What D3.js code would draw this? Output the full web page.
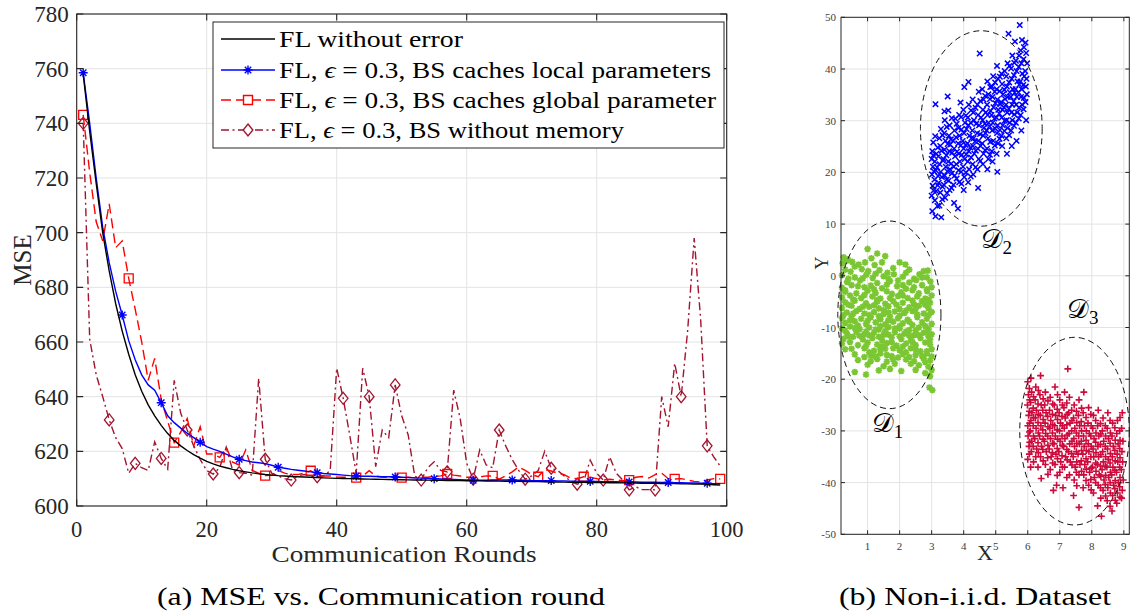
<!DOCTYPE html>
<html><head><meta charset="utf-8">
<script src="https://cdn.jsdelivr.net/npm/d3@7"></script>
<style>body{margin:0;background:#fff}svg{display:block}text{font-family:"Liberation Serif","Times New Roman",serif}</style>
</head><body><svg id="c" width="1133" height="615"></svg>
<script>
// ---------- Panel (a) data ----------
const noError = [758,737,718,700,686,674,664,655.5,648,642,637,633,629.5,626.5,624,622,620.3,618.8,617.5,616.3,615.4,614.6,614,613.4,612.9,612.5,612.1,611.8,611.5,611.3,611.1,611,610.8,610.7,610.6,610.5,610.4,610.3,610.2,610.1,610.05,610,609.95,609.9,609.85,609.8,609.75,609.7,609.65,609.6,609.55,609.5,609.5,609.45,609.4,609.4,609.35,609.3,609.3,609.25,609.2,609.2,609.15,609.1,609.1,609.05,609,609,608.95,608.9,608.9,608.85,608.8,608.8,608.75,608.7,608.7,608.65,608.6,608.6,608.55,608.5,608.5,608.45,608.4,608.4,608.35,608.3,608.3,608.25,608.2,608.2,608.1,608.1,608,608,607.9,607.8,607.7];
const localParams = [758.5,740,720,702,689,678.5,669.9,660.5,653.5,648,644.3,642.4,637.8,633,630.5,628.5,626.6,625,623.3,621.7,620.8,620,619,618,617.1,616.6,616.1,615.8,615.5,614.9,614.2,613.8,613.4,613.1,612.8,612.5,612.2,611.9,611.7,611.5,611.3,611.1,611,610.9,610.9,610.8,610.7,610.7,610.6,610.5,610.4,610.3,610.2,610.1,610,609.9,609.8,609.7,609.6,609.5,609.4,609.4,609.4,609.5,609.5,609.5,609.5,609.4,609.4,609.3,609.3,609.3,609.3,609.2,609.2,609.1,609.1,609,609,609,608.9,608.9,608.9,608.8,608.8,608.8,608.7,608.7,608.7,608.6,608.6,608.5,608.5,608.4,608.4,608.3,608.3,608.2,608.2];
const globalParam = [743.1,722,704,697,710.5,694.5,697,683.3,672,660,646,654,639,631,623.2,627,632,622,629,619,619,617.8,621.5,616,615,620.5,613,612,611.1,611.2,613,612,611.5,611.5,612,612.9,611.5,611,611,610.6,610.5,610.5,610.4,611,612.9,611,610.5,610.5,610.5,610.4,610.5,610.3,610.5,610.5,610.8,611,611.7,611.3,611,610.5,610.5,610.6,611,611,609.8,611,612.5,614.3,613,611.5,610.7,613.3,612.8,612,611.5,610.2,610,610.7,610.5,610,609.5,609.8,609.5,609.3,609.5,610.5,610.8,610.2,611.5,612,610,609.9,610,609.5,609,608.8,609.5,610,609.9];
const noMemory = [740,661,648,640,631.5,625,621,612,615.6,614,613,623.5,617.4,613.5,646,634,627.8,622,617,613,611.7,614,621.5,613,612.2,612,611.3,646.7,617.1,612,611,610,609.5,611,611.5,611,610.7,611,613,650.4,639.4,626,612,650.4,640,614.4,627.8,625,644.3,633,626,611,609.5,614,616.2,613,612.5,642.4,632,615.6,609.8,620.5,615,614,627.8,622,617,613,609.8,611,613,620,613.8,613,611,609,608,609,616.8,612,609.5,618,612,609.5,605.9,607,606,606,605.9,640,629,652.2,640,664.4,698,668,622,618,614.6];
const rounds = noError.map((d, i) => i + 1);
const xTicksA = [0, 20, 40, 60, 80, 100];
const yTicksA = [600, 620, 640, 660, 680, 700, 720, 740, 760, 780];
const legendLabels = ["FL without error", "FL, ϵ = 0.3, BS caches local parameters", "FL, ϵ = 0.3, BS caches global parameter", "FL, ϵ = 0.3, BS without memory"];

// ---------- Panel (b) data ----------
const cluster1 = [[1.0,5.2],[1.3,4.3],[0.25,3.6],[0.38,3.2],[1.12,3.4],[1.55,3.8],[0.22,2.4],[0.52,2.7],[0.72,2.2],[0.92,2.6],[1.22,2.1],[2.0,2.6],[2.18,2.2],
[0.3,1.2],[0.47,0.8],[0.82,1.3],[1.02,0.9],[1.37,1.1],[1.62,0.6],[2.88,1.0],[2.62,0.3],
[0.2,0.1],[0.6,-0.3],[0.96,0.2],[1.16,-0.4],[1.5,-0.1],[1.82,0.3],[2.1,-0.2],[2.45,-0.6],[2.85,-0.3],
[0.36,-1.2],[0.76,-0.9],[1.3,-1.4],[1.7,-1.0],[2.3,-1.3],[2.52,-0.8],[2.96,-1.1],
[0.2,-2.3],[0.5,-1.8],[0.9,-2.2],[1.1,-1.9],[1.45,-2.4],[1.92,-2.0],[2.2,-2.5],[2.7,-1.8],[3.0,-2.2],
[0.3,-3.1],[0.65,-3.4],[1.0,-2.9],[1.25,-3.3],[1.6,-3.0],[1.76,-3.5],[2.05,-3.2],[2.4,-2.8],[2.6,-3.4],[2.86,-3.0],
[0.2,-4.2],[0.45,-3.8],[0.8,-4.3],[1.15,-4.0],[1.4,-4.4],[1.95,-3.9],[2.25,-4.3],[2.55,-4.0],[2.8,-4.4],[3.0,-3.8],
[0.3,-5.1],[0.6,-4.8],[0.95,-5.3],[1.3,-5.0],[1.55,-5.4],[1.8,-4.9],[2.1,-5.2],[2.45,-5.5],[2.7,-4.9],[2.95,-5.2],
[0.2,-6.2],[0.5,-5.8],[0.75,-6.4],[1.05,-6.0],[1.35,-6.3],[1.65,-5.9],[2.0,-6.4],[2.3,-6.1],[2.6,-5.8],[2.9,-6.3],
[0.35,-7.1],[0.65,-6.8],[0.9,-7.3],[1.2,-7.0],[1.5,-7.4],[1.85,-6.9],[2.15,-7.2],[2.4,-6.8],[2.75,-7.3],[3.0,-7.0],
[0.2,-8.2],[0.5,-7.8],[0.8,-8.3],[1.1,-8.0],[1.4,-8.4],[1.7,-7.9],[1.95,-8.2],[2.25,-8.5],[2.55,-8.0],[2.85,-8.3],
[0.3,-9.1],[0.6,-8.8],[0.95,-9.3],[1.25,-9.0],[1.55,-9.4],[1.8,-8.9],[2.1,-9.2],[2.4,-9.5],[2.7,-9.0],[3.0,-9.3],
[0.2,-10.2],[0.45,-9.8],[0.75,-10.3],[1.05,-10.0],[1.35,-10.4],[1.65,-9.9],[2.0,-10.2],[2.3,-10.5],[2.6,-10.0],[2.9,-10.3],
[0.35,-11.1],[0.65,-10.8],[0.9,-11.3],[1.2,-11.0],[1.5,-11.4],[1.85,-10.9],[2.15,-11.2],[2.45,-11.5],[2.75,-11.0],[3.0,-11.3],
[0.25,-12.2],[0.55,-11.8],[0.85,-12.3],[1.15,-12.0],[1.45,-12.4],[1.75,-11.9],[2.05,-12.2],[2.35,-12.5],[2.65,-12.0],[2.95,-12.3],
[0.2,-13.1],[0.7,-13.4],[1.0,-12.9],[1.3,-13.3],[1.6,-13.0],[1.9,-13.5],[2.2,-13.1],[2.5,-13.4],[2.8,-12.9],
[0.3,-14.2],[0.9,-14.0],[1.2,-14.5],[1.55,-14.1],[2.0,-14.4],[2.35,-14.0],[2.65,-14.6],[3.0,-14.2],
[0.6,-15.2],[1.1,-15.4],[1.4,-15.0],[1.75,-15.5],[2.1,-15.1],[2.5,-15.3],[2.85,-15.0],
[0.7,-16.3],[1.3,-16.1],[1.6,-16.6],[2.2,-16.2],[2.45,-16.5],[2.75,-16.0],[2.95,-16.4],
[1.0,-17.2],[1.5,-17.5],[1.85,-17.0],[2.6,-17.3],[2.9,-17.6],
[0.6,-18.6],[1.35,-18.3],[2.05,-18.4],[2.8,-18.8],[3.0,-18.2],
[0.95,-19.1],[2.95,-19.4],[2.93,-21.6],[3.02,-22.1],
[0.35,2.9],[0.6,1.8],[1.45,2.6],[1.8,1.5],[2.3,1.2],[2.75,0.9],
[0.4,-0.6],[0.85,-0.5],[1.25,0.4],[1.65,-0.6],[1.95,-0.9],[2.2,0.6],[2.7,-0.3],
[0.3,-2.8],[0.7,-2.0],[1.2,-2.6],[1.6,-1.7],[2.1,-1.8],[2.45,-2.2],[2.85,-2.6],
[0.55,-4.6],[0.9,-3.7],[1.3,-4.7],[1.7,-4.3],[2.1,-3.8],[2.4,-4.8],[2.9,-4.7],
[0.4,-5.6],[0.85,-6.0],[1.2,-5.7],[1.5,-6.6],[1.9,-5.6],[2.2,-6.7],[2.5,-6.4],[2.8,-5.6],
[0.25,-7.6],[0.55,-7.3],[1.05,-7.6],[1.35,-7.8],[1.65,-7.1],[2.0,-7.7],[2.55,-7.5],[2.9,-7.6],
[0.45,-8.6],[0.7,-9.6],[1.0,-8.7],[1.4,-9.7],[1.65,-8.6],[2.0,-9.7],[2.3,-8.9],[2.8,-9.7],
[0.3,-10.6],[0.6,-10.1],[0.95,-10.8],[1.25,-10.4],[1.55,-10.7],[1.85,-10.2],[2.2,-10.8],[2.5,-10.6],[2.85,-10.9],
[0.4,-11.7],[0.75,-11.6],[1.05,-11.5],[1.35,-11.8],[1.65,-11.4],[2.0,-11.7],[2.3,-11.6],[2.6,-11.5],[2.9,-11.7],
[0.45,-12.8],[0.95,-13.6],[1.45,-13.6],[1.75,-12.8],[2.1,-13.7],[2.4,-12.8],[2.95,-13.3],
[0.5,-14.1],[1.05,-14.8],[1.4,-14.2],[1.8,-14.0],[2.2,-14.8],[2.5,-14.2],[2.85,-14.6],
[0.9,-15.7],[1.25,-15.6],[1.6,-15.3],[1.95,-15.8],[2.3,-15.7],[2.7,-15.5],[3.0,-15.6],
[1.1,-16.5],[1.8,-16.2],[2.35,-17.0],[2.8,-16.7],[1.7,-18.0],[2.5,-18.2]];
const cluster2 = [[3.02,12.5],[3.0,15.5],[3.03,17.4],[3.01,19.6],[3.04,21.1],[3.0,22.6],[3.02,24.1],[3.05,25.8],
[3.12,11.5],[3.1,14.6],[3.14,16.4],[3.09,18.6],[3.13,20.4],[3.1,22.1],[3.15,23.6],[3.11,27.0],[3.12,33.2],
[3.3,11.3],[3.24,13.6],[3.27,16.1],[3.22,18.0],[3.28,20.1],[3.25,21.6],[3.21,23.1],[3.27,25.1],[3.24,26.6],[3.29,28.4],
[3.42,15.1],[3.38,17.6],[3.41,19.4],[3.44,21.1],[3.37,22.6],[3.4,24.4],[3.43,26.1],[3.39,27.6],[3.41,30.1],[3.4,31.8],
[3.56,16.6],[3.53,18.4],[3.57,20.6],[3.52,22.1],[3.55,24.1],[3.58,25.4],[3.54,27.1],[3.56,29.1],[3.52,32.0],[3.5,34.7],
[3.7,14.1],[3.68,17.6],[3.72,19.4],[3.69,21.1],[3.73,23.1],[3.7,24.6],[3.67,26.1],[3.71,28.1],[3.74,30.4],
[3.82,13.0],[3.86,18.1],[3.84,20.4],[3.88,22.1],[3.85,23.6],[3.83,25.6],[3.87,27.1],[3.84,28.6],[3.86,31.1],[3.9,33.5],
[4.0,16.6],[4.02,19.1],[3.98,21.1],[4.03,22.6],[4.0,24.6],[3.97,26.1],[4.01,27.6],[4.04,29.6],[3.99,32.1],[4.02,36.5],
[4.14,18.1],[4.17,20.6],[4.13,22.1],[4.16,24.1],[4.12,25.6],[4.18,27.1],[4.15,29.1],[4.13,30.6],[4.16,33.1],[4.15,37.5],
[4.3,19.6],[4.28,21.6],[4.33,23.6],[4.29,25.1],[4.31,26.6],[4.27,28.1],[4.32,30.1],[4.3,31.6],[4.28,34.1],
[4.45,17.0],[4.43,20.6],[4.47,22.6],[4.44,24.6],[4.46,26.1],[4.42,27.6],[4.48,29.1],[4.45,31.1],[4.43,33.1],[4.47,35.6],[4.5,43.0],
[4.6,21.6],[4.62,23.6],[4.58,25.6],[4.61,27.1],[4.63,28.6],[4.59,30.1],[4.6,32.1],[4.62,34.1],[4.58,36.1],
[4.74,20.6],[4.77,22.6],[4.73,24.6],[4.76,26.6],[4.72,28.1],[4.78,29.6],[4.75,31.1],[4.73,33.1],[4.77,35.1],[4.74,37.6],
[4.9,22.1],[4.88,24.1],[4.92,26.1],[4.89,28.1],[4.91,29.6],[4.87,31.1],[4.93,32.6],[4.9,34.6],[4.88,36.6],[4.92,38.6],
[5.05,20.1],[5.03,23.6],[5.07,25.6],[5.04,27.6],[5.06,29.1],[5.02,30.6],[5.08,32.1],[5.05,34.1],[5.03,36.1],[5.07,38.1],[5.04,40.6],
[5.2,25.1],[5.18,27.1],[5.22,29.1],[5.19,30.6],[5.21,32.1],[5.17,33.6],[5.23,35.1],[5.2,37.1],[5.18,39.1],
[5.35,23.6],[5.33,26.6],[5.37,28.6],[5.34,30.1],[5.36,31.6],[5.32,33.1],[5.38,34.6],[5.35,36.6],[5.33,38.6],[5.37,41.1],[5.4,46.8],
[5.5,25.1],[5.48,28.1],[5.52,30.1],[5.49,31.6],[5.51,33.1],[5.47,34.6],[5.53,36.1],[5.5,38.1],[5.48,40.1],[5.52,42.6],
[5.65,26.1],[5.63,29.6],[5.67,31.6],[5.64,33.1],[5.66,34.6],[5.62,36.1],[5.68,37.6],[5.65,39.6],[5.63,41.6],[5.6,45.3],
[5.8,28.1],[5.78,31.1],[5.82,33.1],[5.79,34.6],[5.81,36.1],[5.77,37.6],[5.83,39.1],[5.8,41.1],[5.78,43.6],[5.82,45.6],[5.75,48.5],
[5.95,30.1],[5.93,33.6],[5.97,35.1],[5.94,36.6],[5.96,38.1],[5.92,39.6],[5.98,41.1],[5.95,43.1],[5.93,45.1],
[3.06,16.5],[3.07,20.2],[3.05,23.3],[3.18,13.5],[3.19,17.5],[3.2,19.3],[3.17,21.0],[3.19,24.8],
[3.33,14.8],[3.34,17.2],[3.32,19.1],[3.35,22.3],[3.31,24.2],[3.34,27.2],
[3.48,16.0],[3.47,18.6],[3.49,20.2],[3.46,23.3],[3.5,25.5],[3.47,28.8],
[3.62,17.0],[3.63,19.8],[3.61,21.7],[3.64,23.8],[3.6,26.4],[3.63,30.5],
[3.78,18.8],[3.77,21.6],[3.79,24.0],[3.76,26.8],[3.78,29.4],
[3.93,17.8],[3.92,20.1],[3.94,23.4],[3.91,25.2],[3.93,28.3],[3.92,30.7],
[4.07,20.0],[4.08,23.5],[4.06,25.3],[4.09,28.4],[4.07,31.0],
[4.22,19.2],[4.23,22.9],[4.21,24.8],[4.24,26.6],[4.22,29.6],[4.23,32.0],
[4.37,21.0],[4.38,24.2],[4.36,26.0],[4.39,29.4],[4.37,32.5],
[4.52,22.2],[4.53,25.1],[4.51,27.4],[4.54,30.6],[4.52,33.8],
[4.67,24.3],[4.68,27.6],[4.66,29.4],[4.69,31.6],[4.67,34.8],
[4.82,23.4],[4.83,25.9],[4.81,28.9],[4.84,31.9],[4.82,34.2],[4.83,36.5],
[4.97,25.2],[4.98,28.5],[4.96,30.4],[4.99,33.4],[4.97,35.6],[4.98,37.4],
[5.12,26.5],[5.13,28.2],[5.11,31.4],[5.14,33.2],[5.12,35.7],[5.13,38.5],
[5.27,28.0],[5.28,30.0],[5.26,32.6],[5.29,34.2],[5.27,36.0],[5.28,39.6],
[5.42,27.2],[5.43,29.6],[5.41,32.3],[5.44,35.5],[5.42,37.4],[5.43,40.6],
[5.57,29.0],[5.58,31.2],[5.56,33.8],[5.59,35.4],[5.57,38.8],[5.58,41.2],
[5.72,30.4],[5.73,32.5],[5.71,35.5],[5.74,37.0],[5.72,40.4],[5.73,42.6],
[5.87,32.2],[5.88,34.4],[5.86,36.9],[5.89,38.6],[5.87,41.9],[5.88,44.2]];
const cluster3 = [[6.0,-20.5],[6.02,-23.0],[5.99,-25.0],[6.03,-27.0],[6.0,-29.0],[6.01,-31.0],[6.04,-33.0],[6.0,-35.5],
[6.1,-19.8],[6.12,-22.5],[6.09,-24.5],[6.13,-26.5],[6.1,-28.0],[6.08,-30.0],[6.12,-32.0],[6.11,-34.0],[6.09,-37.0],
[6.25,-21.5],[6.23,-24.0],[6.27,-26.0],[6.24,-27.5],[6.26,-29.5],[6.22,-31.5],[6.28,-33.5],[6.25,-35.0],
[6.4,-19.3],[6.38,-23.0],[6.42,-25.0],[6.39,-27.0],[6.41,-29.0],[6.37,-31.0],[6.43,-33.0],[6.4,-35.0],[6.42,-39.2],
[6.55,-22.5],[6.53,-25.0],[6.57,-26.5],[6.54,-28.5],[6.56,-30.5],[6.52,-32.0],[6.58,-34.0],[6.55,-36.5],
[6.7,-23.5],[6.68,-26.0],[6.72,-28.0],[6.69,-29.5],[6.71,-31.5],[6.67,-33.5],[6.73,-35.0],[6.7,-37.5],[6.8,-41.5],
[6.85,-21.5],[6.83,-25.0],[6.87,-27.0],[6.84,-29.0],[6.86,-31.0],[6.82,-32.5],[6.88,-34.5],[6.85,-36.5],[6.9,-40.5],
[7.0,-24.0],[6.98,-26.5],[7.02,-28.5],[6.99,-30.0],[7.01,-32.0],[6.97,-34.0],[7.03,-36.0],[7.0,-38.0],
[7.15,-22.5],[7.13,-25.5],[7.17,-27.5],[7.14,-29.5],[7.16,-31.5],[7.12,-33.0],[7.18,-35.0],[7.15,-37.0],[7.1,-41.0],
[7.25,-18.0],[7.3,-23.5],[7.28,-26.5],[7.32,-28.5],[7.29,-30.5],[7.31,-32.5],[7.27,-34.0],[7.33,-36.0],[7.3,-38.5],
[7.45,-25.0],[7.43,-27.5],[7.47,-29.5],[7.44,-31.5],[7.46,-33.0],[7.42,-35.0],[7.48,-37.0],[7.45,-39.5],[7.43,-42.5],
[7.6,-24.0],[7.58,-27.0],[7.62,-29.0],[7.59,-31.0],[7.61,-32.5],[7.57,-34.5],[7.63,-36.5],[7.6,-38.5],[7.6,-44.8],
[7.75,-22.5],[7.73,-26.5],[7.77,-29.0],[7.74,-31.0],[7.76,-33.0],[7.72,-34.5],[7.78,-36.5],[7.75,-38.5],[7.73,-41.0],
[7.9,-25.5],[7.88,-28.5],[7.92,-30.5],[7.89,-32.5],[7.91,-34.0],[7.87,-36.0],[7.93,-38.0],[7.9,-40.5],
[8.05,-27.0],[8.03,-29.5],[8.07,-31.5],[8.04,-33.5],[8.06,-35.0],[8.02,-37.0],[8.08,-39.0],[8.05,-42.0],
[8.2,-26.0],[8.18,-29.0],[8.22,-31.0],[8.19,-33.0],[8.21,-35.0],[8.17,-36.5],[8.23,-38.5],[8.2,-40.5],[8.18,-44.5],
[8.35,-27.5],[8.33,-30.0],[8.37,-32.0],[8.34,-34.0],[8.36,-36.0],[8.32,-37.5],[8.38,-39.5],[8.35,-41.5],[8.3,-46.5],
[8.5,-26.5],[8.48,-29.5],[8.52,-31.5],[8.49,-33.5],[8.51,-35.5],[8.47,-37.0],[8.53,-39.0],[8.5,-41.0],[8.48,-43.5],
[8.65,-28.5],[8.63,-31.0],[8.67,-33.0],[8.64,-35.0],[8.66,-37.0],[8.62,-38.5],[8.68,-40.5],[8.65,-42.5],[8.63,-45.5],
[8.8,-28.0],[8.78,-30.5],[8.82,-32.5],[8.79,-34.5],[8.81,-36.0],[8.77,-38.0],[8.83,-40.0],[8.8,-42.0],[8.78,-44.0],
[8.95,-26.5],[8.93,-29.5],[8.97,-32.0],[8.94,-34.0],[8.96,-36.0],[8.92,-37.5],[8.98,-39.5],[8.95,-41.5],[8.93,-43.0],
[6.05,-21.8],[6.06,-24.0],[6.05,-26.2],[6.06,-28.5],[6.05,-30.2],[6.06,-32.2],[6.05,-34.5],
[6.18,-23.4],[6.17,-25.6],[6.18,-27.4],[6.17,-29.0],[6.18,-31.0],[6.17,-33.0],[6.18,-36.0],
[6.33,-22.2],[6.32,-24.8],[6.33,-26.8],[6.32,-28.4],[6.33,-30.4],[6.32,-32.3],[6.33,-34.2],[6.32,-37.0],
[6.48,-23.8],[6.47,-26.0],[6.48,-27.8],[6.47,-29.8],[6.48,-31.6],[6.47,-33.6],[6.48,-35.8],
[6.63,-24.2],[6.62,-27.2],[6.63,-29.2],[6.62,-31.0],[6.63,-32.8],[6.62,-35.2],[6.63,-38.4],
[6.78,-24.8],[6.77,-26.8],[6.78,-28.8],[6.77,-30.4],[6.78,-32.4],[6.77,-34.2],[6.78,-36.2],
[6.93,-23.0],[6.92,-25.8],[6.93,-27.8],[6.92,-29.8],[6.93,-31.6],[6.92,-33.4],[6.93,-35.4],[6.92,-38.6],
[7.08,-25.0],[7.07,-27.2],[7.08,-29.0],[7.07,-31.0],[7.08,-32.8],[7.07,-34.8],[7.08,-37.0],
[7.22,-24.6],[7.23,-26.8],[7.22,-28.8],[7.23,-30.8],[7.22,-33.6],[7.23,-35.6],[7.22,-39.0],
[7.37,-26.0],[7.38,-28.0],[7.37,-30.0],[7.38,-32.0],[7.37,-34.4],[7.38,-36.6],
[7.52,-26.2],[7.53,-28.4],[7.52,-30.4],[7.53,-32.4],[7.52,-34.0],[7.53,-36.0],[7.52,-38.0],[7.53,-40.6],
[7.68,-25.6],[7.67,-28.2],[7.68,-30.0],[7.67,-32.0],[7.68,-33.8],[7.67,-35.8],[7.68,-37.8],
[7.82,-27.4],[7.83,-30.0],[7.82,-31.8],[7.83,-33.8],[7.82,-35.4],[7.83,-37.4],[7.82,-39.6],
[7.97,-26.8],[7.98,-29.0],[7.97,-31.0],[7.98,-33.0],[7.97,-35.0],[7.98,-37.2],[7.97,-39.4],[7.98,-41.4],
[8.12,-28.0],[8.13,-30.4],[8.12,-32.2],[8.13,-34.2],[8.12,-36.2],[8.13,-37.8],[8.12,-40.0],
[8.27,-28.6],[8.28,-30.6],[8.27,-32.6],[8.28,-34.6],[8.27,-36.8],[8.28,-38.8],[8.27,-41.0],[8.28,-43.0],
[8.42,-29.0],[8.43,-31.0],[8.42,-33.0],[8.43,-35.0],[8.42,-36.8],[8.43,-38.6],[8.42,-40.4],[8.43,-42.6],
[8.57,-28.0],[8.58,-30.4],[8.57,-32.4],[8.58,-34.4],[8.57,-36.2],[8.58,-38.0],[8.57,-40.0],[8.58,-42.0],[8.57,-44.6],
[8.72,-29.4],[8.73,-31.8],[8.72,-33.8],[8.73,-35.8],[8.72,-37.6],[8.73,-39.6],[8.72,-41.2],[8.73,-43.4],
[8.88,-27.4],[8.87,-30.0],[8.88,-31.8],[8.87,-33.4],[8.88,-35.2],[8.87,-37.0],[8.88,-39.0],[8.87,-40.8],[8.88,-42.8]];
// ellipse outlines [cx, cy, rx, ry] in data units and labels
const ellipses = [[1.68,-7.55,1.61,18.15],[4.55,28.5,1.9,18.9],[7.46,-30.05,1.71,18.15]];
const clusterLabels = [{n:"1", x:1.62, y:-30.3},{n:"2", x:5.02, y:5.4},{n:"3", x:7.72, y:-8.2}];
const xTicksB = [1,2,3,4,5,6,7,8,9];
const yTicksB = [-50,-40,-30,-20,-10,0,10,20,30,40,50];

const svg = d3.select("#c");
const AX = "#262626", GRID = "#e3e3e3";

// ================= Panel (a) =================
const xA = d3.scaleLinear().domain([0,100]).range([76.7,726.7]);
const yA = d3.scaleLinear().domain([600,780]).range([506,14]);
const gA = svg.append("g");
gA.selectAll(".gx").data(xTicksA).join("line").attr("x1",d=>xA(d)).attr("x2",d=>xA(d)).attr("y1",yA(600)).attr("y2",yA(780)).attr("stroke",GRID).attr("stroke-width",1);
gA.selectAll(".gy").data(yTicksA).join("line").attr("y1",d=>yA(d)).attr("y2",d=>yA(d)).attr("x1",xA(0)).attr("x2",xA(100)).attr("stroke",GRID).attr("stroke-width",1);

const lineA = d3.line().x((d,i)=>xA(rounds[i])).y(d=>yA(d));
const series = [
  {vals:noError, color:"#000000", dash:null, marker:null, every:0},
  {vals:localParams, color:"#0000FF", dash:null, marker:"star", every:6},
  {vals:globalParam, color:"#FF0000", dash:"10,5", marker:"square", every:7},
  {vals:noMemory, color:"#A2142F", dash:"8,3.5,2,3.5", marker:"diamond", every:4}
];
function markerPath(type){
  if(type==="star") return "M-4.5,0H4.5M0,-4.5V4.5M-3.2,-3.2L3.2,3.2M-3.2,3.2L3.2,-3.2";
  if(type==="square") return "M-4.5,-4.5H4.5V4.5H-4.5Z";
  if(type==="diamond") return "M0,-6L4.8,0L0,6L-4.8,0Z";
  return "";
}
const plotA = gA.append("g");
[3,2,1,0].forEach(k=>{
  const s = series[k];
  plotA.append("path").datum(s.vals).attr("d",lineA).attr("fill","none").attr("stroke",s.color).attr("stroke-width",1.4).attr("stroke-dasharray",s.dash);
  if(s.marker){
    const idx = s.vals.map((v,i)=>i).filter(i=>i % s.every===0);
    plotA.selectAll(null).data(idx).join("path").attr("transform",i=>`translate(${xA(rounds[i])},${yA(s.vals[i])})`)
      .attr("d",markerPath(s.marker)).attr("fill","none").attr("stroke",s.color).attr("stroke-width",s.marker==="star"?1.4:1.3);
  }
});
gA.append("rect").attr("x",xA(0)).attr("y",yA(780)).attr("width",xA(100)-xA(0)).attr("height",yA(600)-yA(780)).attr("fill","none").attr("stroke",AX).attr("stroke-width",1.1);
const tl = 6.5;
gA.selectAll(".tx").data(xTicksA).join("path").attr("d",d=>`M${xA(d)},${yA(600)}v${-tl}M${xA(d)},${yA(780)}v${tl}`).attr("stroke",AX).attr("stroke-width",1.1);
gA.selectAll(".ty").data(yTicksA).join("path").attr("d",d=>`M${xA(0)},${yA(d)}h${tl}M${xA(100)},${yA(d)}h${-tl}`).attr("stroke",AX).attr("stroke-width",1.1);
gA.selectAll(".lx").data(xTicksA).join("text").attr("x",d=>xA(d)).attr("y",yA(600)+31).attr("text-anchor","middle").attr("font-size",22.5).attr("fill",AX).text(d=>d);
gA.selectAll(".ly").data(yTicksA).join("text").attr("x",xA(0)-8).attr("y",d=>yA(d)+8).attr("text-anchor","end").attr("font-size",23).attr("fill",AX).text(d=>d);
gA.append("text").attr("x",404).attr("y",562).attr("text-anchor","middle").attr("font-size",23).attr("fill",AX).attr("textLength",265).attr("lengthAdjust","spacingAndGlyphs").text("Communication Rounds");
gA.append("text").attr("transform","translate(31,260) rotate(-90)").attr("text-anchor","middle").attr("font-size",25).attr("fill",AX).text("MSE");
svg.append("text").attr("x",381).attr("y",605).attr("text-anchor","middle").attr("font-size",25).attr("fill","#000").attr("textLength",448).attr("lengthAdjust","spacingAndGlyphs").text("(a) MSE vs. Communication round");

const leg = gA.append("g");
leg.append("rect").attr("x",213).attr("y",22).attr("width",511).attr("height",126).attr("fill","#fff").attr("stroke",AX).attr("stroke-width",1);
const legY = [39,70,100,130];
const legW = [184,432,437,345];
series.forEach((s,k)=>{
  const y = legY[k];
  leg.append("line").attr("x1",221).attr("x2",275).attr("y1",y).attr("y2",y).attr("stroke",s.color).attr("stroke-width",1.4).attr("stroke-dasharray",s.dash);
  if(s.marker) leg.append("path").attr("transform",`translate(248,${y})`).attr("d",markerPath(s.marker)).attr("fill",s.marker==="star"?"none":"#fff").attr("stroke",s.color).attr("stroke-width",1.4);
  const t = leg.append("text").attr("x",279).attr("y",y+8).attr("font-size",23).attr("fill","#000").attr("textLength",legW[k]).attr("lengthAdjust","spacingAndGlyphs");
  const parts = legendLabels[k].split("ϵ");
  t.append("tspan").text(parts[0]);
  if(parts.length>1){ t.append("tspan").attr("font-style","italic").text("ϵ"); t.append("tspan").text(parts[1]); }
});

// ================= Panel (b) =================
const xB = d3.scaleLinear().domain([0.17,9.17]).range([841,1129.3]);
const yB = d3.scaleLinear().domain([-50,50]).range([534.3,17.3]);
const gB = svg.append("g");
gB.selectAll(".gx").data(xTicksB).join("line").attr("x1",d=>xB(d)).attr("x2",d=>xB(d)).attr("y1",yB(-50)).attr("y2",yB(50)).attr("stroke",GRID);
gB.selectAll(".gy").data(yTicksB).join("line").attr("y1",d=>yB(d)).attr("y2",d=>yB(d)).attr("x1",xB(0.17)).attr("x2",xB(9.17)).attr("stroke",GRID);
const pts = gB.append("g");
pts.selectAll(".c1").data(cluster1).join("path").attr("transform",d=>`translate(${xB(d[0])},${yB(d[1])})`)
  .attr("d","M-3.3,0H3.3M0,-3.3V3.3M-2.4,-2.4L2.4,2.4M-2.4,2.4L2.4,-2.4").attr("stroke","#7AC633").attr("stroke-width",1.8).attr("fill","none");
pts.selectAll(".c2").data(cluster2).join("path").attr("transform",d=>`translate(${xB(d[0])},${yB(d[1])})`)
  .attr("d","M-2.7,-2.7L2.7,2.7M-2.7,2.7L2.7,-2.7").attr("stroke","#0000FF").attr("stroke-width",1.5).attr("fill","none");
pts.selectAll(".c3").data(cluster3).join("path").attr("transform",d=>`translate(${xB(d[0])},${yB(d[1])})`)
  .attr("d","M-3.4,0H3.4M0,-3.4V3.4").attr("stroke","#CC0A3C").attr("stroke-width",1.6).attr("fill","none");
gB.selectAll(".el").data(ellipses).join("ellipse").attr("cx",d=>xB(d[0])).attr("cy",d=>yB(d[1]))
  .attr("rx",d=>xB(d[0]+d[2])-xB(d[0])).attr("ry",d=>yB(d[1])-yB(d[1]+d[3]))
  .attr("fill","none").attr("stroke","#111").attr("stroke-width",1).attr("stroke-dasharray","6,4");
gB.append("rect").attr("x",xB(0.17)).attr("y",yB(50)).attr("width",xB(9.17)-xB(0.17)).attr("height",yB(-50)-yB(50)).attr("fill","none").attr("stroke",AX).attr("stroke-width",1);
gB.selectAll(".tx").data(xTicksB).join("path").attr("d",d=>`M${xB(d)},${yB(-50)}v-4M${xB(d)},${yB(50)}v4`).attr("stroke",AX);
gB.selectAll(".ty").data(yTicksB).join("path").attr("d",d=>`M${xB(0.17)},${yB(d)}h4M${xB(9.17)},${yB(d)}h-4`).attr("stroke",AX);
gB.selectAll(".lx").data(xTicksB).join("text").attr("x",d=>xB(d)).attr("y",yB(-50)+16).attr("text-anchor","middle").attr("font-size",11).attr("fill","#404040").text(d=>d);
gB.selectAll(".ly").data(yTicksB).join("text").attr("x",xB(0.17)-5).attr("y",d=>yB(d)+4).attr("text-anchor","end").attr("font-size",11).attr("fill","#404040").text(d=>d);
gB.append("text").attr("x",985).attr("y",560).attr("text-anchor","middle").attr("font-size",22).attr("fill",AX).text("X");
gB.append("text").attr("transform","translate(828,263) rotate(-90)").attr("text-anchor","middle").attr("font-size",18).attr("fill",AX).text("Y");
clusterLabels.forEach(c=>{
  const t = gB.append("text").attr("x",xB(c.x)).attr("y",yB(c.y)).attr("text-anchor","middle").attr("font-size",27).attr("fill","#000");
  t.append("tspan").attr("font-family","DejaVu Serif, DejaVu Sans, serif").text("𝒟");
  t.append("tspan").attr("font-size",19).attr("dy",6).text(c.n);
});
svg.append("text").attr("x",975).attr("y",605).attr("text-anchor","middle").attr("font-size",25).attr("fill","#000").attr("textLength",272).attr("lengthAdjust","spacingAndGlyphs").text("(b) Non-i.i.d. Dataset");
</script></body></html>
